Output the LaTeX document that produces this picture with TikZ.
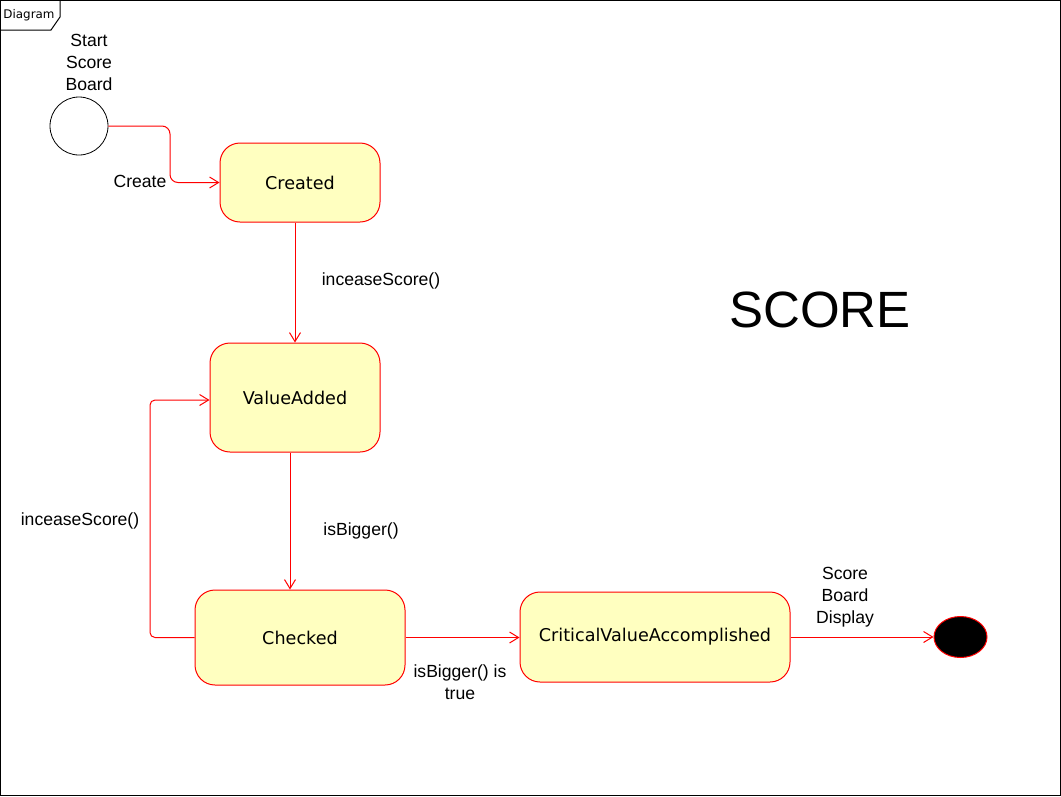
\documentclass[tikz,border=0pt]{standalone}
\usepackage{fontspec}
\setmainfont{Liberation Sans}
\newfontfamily\boxfont{DejaVu Sans}
\usepackage{tikz}
\usetikzlibrary{arrows.meta,shapes.geometric}

\begin{document}
\begin{tikzpicture}[x=1pt,y=-1pt,
    state/.style={draw=red,fill={rgb,255:red,255;green,255;blue,192},rounded corners=20pt,
      line width=1pt,font=\boxfont\fontsize{17.6}{22}\selectfont},
    lbl/.style={align=center,font=\fontsize{17.6}{22}\selectfont},
    flow/.style={draw=red,line width=1pt,-{Straight Barb[length=9pt,width=11pt]}}]
	  \useasboundingbox (0,0) rectangle (1061,796);
	  % frame
	  \draw[line width=1pt](0.5,0.5) rectangle (1060.5,795.5);
	  \draw[line width=1pt](0.5,30) -- (51,30) -- (60,17) -- (60,0.5);
	  \node[font=\boxfont\fontsize{11.9}{14}\selectfont] (tab) at (29,15) {Diagram};
	  % states
	  \node[circle,draw,line width=0.8pt,minimum size=58pt,inner sep=0pt] (start) at (79,126) {};
	  \node[state,minimum width=160pt,minimum height=79pt] (created) at (300,182.5) {Created};
	  \node[state,minimum width=170pt,minimum height=109pt] (added) at (295,397.5) {ValueAdded};
	  \node[state,minimum width=210pt,minimum height=95pt] (checked) at (300,637.5) {Checked};
	  \node[state,minimum width=270pt,minimum height=90pt] (critical) at (655,637) {CriticalValueAccomplished};
	  \node[ellipse,draw=red,fill=black,line width=1pt,minimum width=53pt,minimum height=41pt,inner sep=0pt] (stop) at (960.5,637) {};
	  % connectors
	  \coordinate (bend) at (170,126);
	  \draw[flow,rounded corners=8pt](start.east) -- (bend) |- (created.west);
	  \draw[flow](added.north |- created.south) -- (added.north);
	  \draw[flow]([xshift=-5pt]added.south) -- ([xshift=-5pt]added.south |- checked.north);
	  \coordinate (back) at (150,400);
	  \draw[flow,rounded corners=5pt](checked.west) -| (back) -- (added.west |- back);
	  \draw[flow](checked.east) -- (critical.west |- checked.east);
	  \draw[flow](critical.east) -- (stop.west);
	  % labels
	  \node[lbl] (startlbl) at (89,62) {Start\\Score\\Board};
	  \node[lbl] (createlbl) at (140,181) {Create};
	  \node[lbl] (inclbl) at (381,281) {inceaseScore()};
	  \node[lbl] (biglbl) at (361,531) {isBigger()};
	  \node[lbl] (looplbl) at (80,521) {inceaseScore()};
	  \node[lbl] (truelbl) at (460,682) {isBigger() is\\true};
	  \node[lbl] (displbl) at (845,597) {Score\\Board\\Display};
	  \node[font=\fontsize{51}{60}\selectfont] (title) at (820,310) {SCORE};
	\end{tikzpicture}
\end{document}
